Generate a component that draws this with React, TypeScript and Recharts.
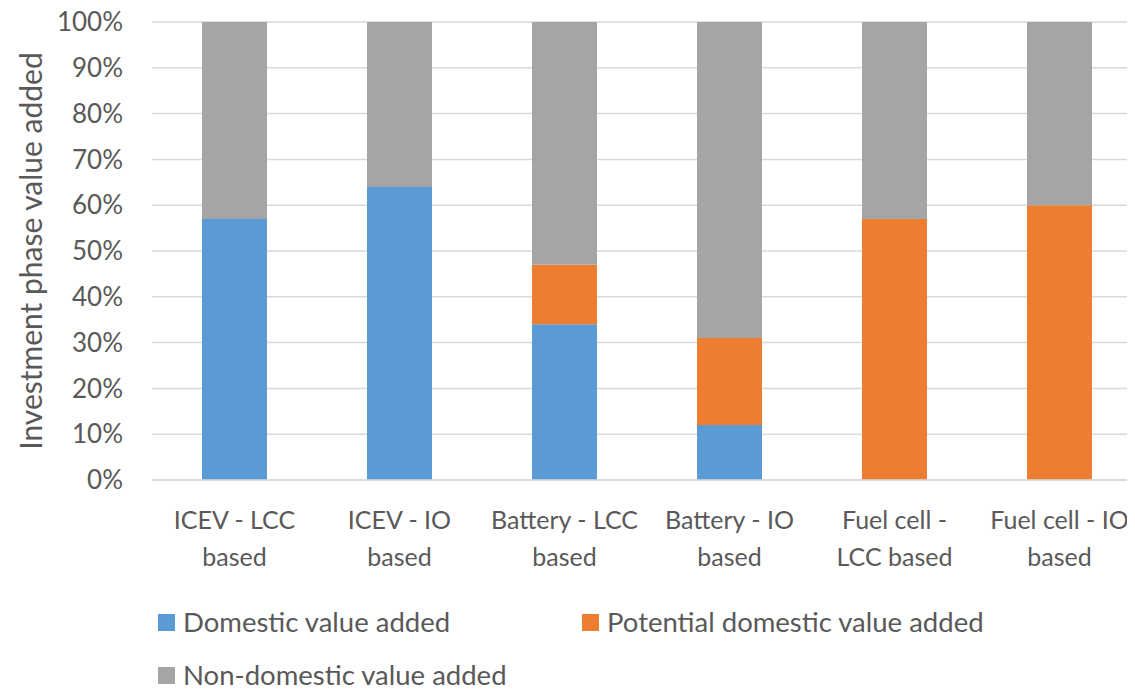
import { BarChart, Bar, XAxis, YAxis, CartesianGrid } from 'recharts'

const categories = [
  ['ICEV - LCC', 'based'],
  ['ICEV - IO', 'based'],
  ['Battery - LCC', 'based'],
  ['Battery - IO', 'based'],
  ['Fuel cell -', 'LCC based'],
  ['Fuel cell - IO', 'based'],
]
const domestic = [57, 64, 34, 12, 0, 0]
const potential = [0, 0, 13, 19, 57, 60]
const nonDomestic = [43, 36, 53, 69, 43, 40]
const yTicks = [0, 10, 20, 30, 40, 50, 60, 70, 80, 90, 100]

const series = [
  { key: 'domestic', name: 'Domestic value added', color: '#5B9BD5' },
  { key: 'potential', name: 'Potential domestic value added', color: '#ED7D31' },
  { key: 'nonDomestic', name: 'Non-domestic value added', color: '#A5A5A5' },
]

const data = categories.map((c, i) => ({
  name: c.join('|'),
  domestic: domestic[i],
  potential: potential[i],
  nonDomestic: nonDomestic[i],
}))

const FONT = 'Lato, "Open Sans", sans-serif'
const TEXT = '#595959'

function CategoryTick(props: any) {
  const { x, y, payload } = props
  const lines = String(payload.value).split('|')
  return (
    <text x={x} y={y} textAnchor="middle" fill={TEXT} fontSize={25} fontFamily={FONT}>
      {lines.map((l, i) => (
        <tspan key={i} x={x} dy={i === 0 ? 41 : 37}>{l}</tspan>
      ))}
    </text>
  )
}

function YLabel(props: any) {
  const { viewBox } = props
  const cx = viewBox.x + 22
  const cy = viewBox.y + viewBox.height / 2
  return (
    <text
      x={cx}
      y={cy}
      transform={`rotate(-90 ${cx} ${cy})`}
      textAnchor="middle"
      dominantBaseline="central"
      fill={TEXT}
      fontSize={30}
      fontFamily={FONT}
    >
      Investment phase value added
    </text>
  )
}

function LegendItem({ s, left, top }: { s: typeof series[number]; left: number; top: number }) {
  return (
    <div style={{ position: 'absolute', left, top, display: 'flex', alignItems: 'center', whiteSpace: 'nowrap' }}>
      <span style={{ width: 17, height: 17, background: s.color, marginRight: 8, display: 'inline-block' }} />
      <span style={{ fontSize: 27.5, lineHeight: '28px', color: TEXT, fontFamily: FONT }}>{s.name}</span>
    </div>
  )
}

export default function App() {
  return (
    <div style={{ position: 'relative', width: 1127, height: 694, marginTop: -8, overflow: 'hidden' }}>
      <BarChart
        width={1134}
        height={694}
        data={data}
        margin={{ top: 22, right: 0, bottom: 134, left: 0 }}
        barCategoryGap="30.3%"
      >
        <CartesianGrid vertical={false} stroke="#D9D9D9" strokeWidth={1.5} />
        <XAxis
          dataKey="name"
          tick={<CategoryTick />}
          tickLine={false}
          axisLine={{ stroke: '#D9D9D9', strokeWidth: 1.5 }}
          interval={0}
          height={80}
        />
        <YAxis
          domain={[0, 100]}
          ticks={yTicks}
          tickFormatter={(v: number) => `${v}%`}
          tick={{ fontSize: 26, fill: TEXT, fontFamily: FONT }}
          tickLine={false}
          axisLine={false}
          width={144}
          tickMargin={23}
          label={<YLabel />}
        />
        {series.map(s => (
          <Bar
            key={s.key}
            dataKey={s.key}
            name={s.name}
            stackId="a"
            fill={s.color}
            isAnimationActive={false}
          />
        ))}
      </BarChart>
      <LegendItem s={series[0]} left={150} top={608} />
      <LegendItem s={series[1]} left={574} top={608} />
      <LegendItem s={series[2]} left={150} top={661} />
    </div>
  )
}
